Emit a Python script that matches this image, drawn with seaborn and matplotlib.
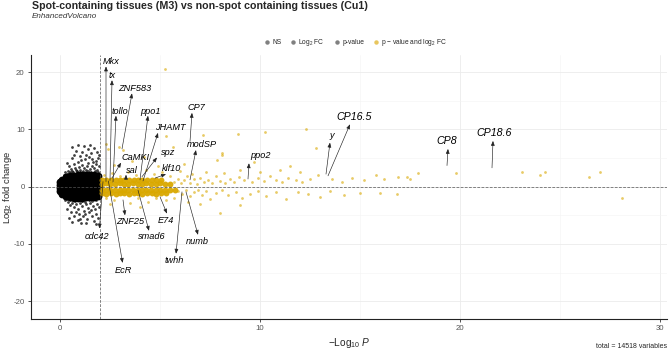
import matplotlib
matplotlib.use('Agg')
import matplotlib.pyplot as plt
from matplotlib.lines import Line2D
import seaborn as sns

# ---- data (x = -log10 P, y = log2 fold change) ----
# dense non-significant core
ns_core_x = [0.0, 0.0, 0.0, 0.0,
             0.12, 0.12, 0.12, 0.12, 0.12, 0.12,
             0.3, 0.3, 0.3, 0.3, 0.3, 0.3, 0.3, 0.3,
             0.5, 0.5, 0.5, 0.5, 0.5, 0.5, 0.5, 0.5,
             0.7, 0.7, 0.7, 0.7, 0.7, 0.7, 0.7, 0.7,
             0.9, 0.9, 0.9, 0.9, 0.9, 0.9, 0.9, 0.9,
             1.1, 1.1, 1.1, 1.1, 1.1, 1.1, 1.1, 1.1,
             1.3, 1.3, 1.3, 1.3, 1.3, 1.3, 1.3, 1.3,
             1.5, 1.5, 1.5, 1.5, 1.5, 1.5, 1.5, 1.5,
             1.7, 1.7, 1.7, 1.7, 1.7, 1.7, 1.7, 1.7,
             1.88, 1.88, 1.88, 1.88, 1.88, 1.88, 1.88, 1.88]
ns_core_y = [-0.7, -0.3, 0.3, 0.75,
             -1.2, -0.7, -0.3, 0.3, 0.7, 1.25,
             -1.6, -1.1, -0.6, -0.25, 0.25, 0.6, 1.1, 1.65,
             -1.8, -1.25, -0.7, -0.25, 0.25, 0.7, 1.25, 1.85,
             -1.9, -1.3, -0.7, -0.25, 0.25, 0.7, 1.35, 1.95,
             -1.9, -1.3, -0.7, -0.25, 0.25, 0.7, 1.35, 2.0,
             -1.9, -1.3, -0.7, -0.25, 0.25, 0.7, 1.35, 2.05,
             -1.85, -1.3, -0.7, -0.25, 0.25, 0.7, 1.35, 2.05,
             -1.85, -1.3, -0.7, -0.25, 0.25, 0.7, 1.3, 2.0,
             -1.8, -1.25, -0.7, -0.25, 0.25, 0.7, 1.3, 2.0,
             -1.7, -1.2, -0.7, -0.25, 0.25, 0.7, 1.25, 1.9]

# scattered non-significant points
ns_x = [0.25, 0.4, 0.55, 0.62, 0.75, 0.8, 0.95, 1.0, 1.12, 1.2, 1.28, 1.35, 1.42, 1.5, 1.58,
        1.65, 1.72, 1.8, 1.86, 1.93, 0.45, 0.68, 0.88, 1.05, 1.25, 1.45, 1.62, 1.78, 1.9, 0.35,
        0.58, 0.72, 0.82, 0.98, 1.1, 1.18, 1.32, 1.4, 1.55, 1.7, 1.85, 0.62, 0.92, 1.52, 1.97,
        0.18, 0.33, 0.48, 0.66, 0.84, 1.02, 1.16, 1.38, 1.56, 1.74, 1.9,
        0.25, 0.4, 0.5, 0.62, 0.7, 0.8, 0.9, 1.0, 1.1, 1.2, 1.3, 1.38, 1.48, 1.55, 1.65,
        1.75, 1.85, 1.93, 0.35, 0.55, 0.68, 0.78, 0.88, 0.95, 1.05, 1.15, 1.25, 1.35, 1.45,
        1.58, 1.68, 1.8, 1.9, 0.45, 1.0, 1.3, 0.6, 1.78,
        0.2, 0.36, 0.52, 0.74, 0.92, 1.08, 1.24, 1.44, 1.62, 1.82]
ns_y = [2.5, 2.8, 3.1, 2.7, 3.3, 2.9, 3.5, 3.0, 3.8, 3.2, 2.9, 3.6, 4.1, 3.1, 3.7,
        4.4, 3.3, 3.9, 2.9, 3.6, 3.6, 4.0, 4.3, 4.6, 4.9, 5.2, 4.9, 4.5, 5.0, 4.2,
        5.0, 5.6, 6.3, 5.4, 6.0, 7.1, 5.6, 6.5, 5.9, 6.8, 6.0, 6.9, 7.2, 7.3, 5.5,
        2.0, 2.3, 2.5, 2.6, 2.7, 2.6, 2.8, 2.7, 2.6, 2.7, 2.5,
        -2.4, -2.7, -3.2, -2.8, -3.6, -3.1, -3.9, -2.9, -3.4, -4.2, -3.0, -3.7, -2.9, -4.0, -3.3,
        -3.9, -3.0, -3.5, -3.9, -4.5, -5.2, -4.4, -5.8, -4.8, -6.3, -5.1, -4.7, -5.6, -4.5,
        -5.2, -6.0, -4.7, -5.5, -5.5, -5.6, -6.4, -6.1, -6.5,
        -1.9, -2.2, -2.4, -2.5, -2.4, -2.5, -2.6, -2.4, -2.5, -2.3]

# dense significant band
sig_core_x = [2.08, 2.3, 2.52, 2.75, 2.98, 3.2, 3.42, 3.65, 3.88, 4.1, 4.32, 4.55, 4.78, 5.0, 5.25, 5.5,
              2.1, 2.32, 2.55, 2.78, 3.0, 3.22, 3.45, 3.68, 3.9, 4.12, 4.35, 4.58, 4.8, 5.05,
              2.08, 2.3, 2.52, 2.75, 2.98, 3.2, 3.42, 3.65, 3.88, 4.1, 4.32, 4.55, 4.78, 5.0, 5.25, 5.5, 5.75,
              2.1, 2.32, 2.55, 2.78, 3.0, 3.22, 3.45, 3.68, 3.9, 4.12, 4.35, 4.58, 4.8, 5.05, 5.3]
sig_core_y = [0.55, 0.6, 0.5, 0.55, 0.6, 0.5, 0.55, 0.6, 0.5, 0.55, 0.6, 0.5, 0.55, 0.6, 0.5, 0.55,
              1.15, 1.2, 1.1, 1.2, 1.15, 1.1, 1.2, 1.15, 1.1, 1.2, 1.15, 1.1, 1.2, 1.1,
              -0.55, -0.6, -0.5, -0.55, -0.6, -0.5, -0.55, -0.6, -0.5, -0.55, -0.6, -0.5, -0.55, -0.6, -0.5, -0.55, -0.6,
              -1.15, -1.2, -1.1, -1.2, -1.15, -1.1, -1.2, -1.15, -1.1, -1.2, -1.15, -1.1, -1.2, -1.1, -1.15]

# scattered significant points
sig_x = [5.7, 5.9, 6.05, 6.2, 6.35, 6.5, 6.7, 6.85, 7.0, 7.2, 7.4, 7.6, 7.8, 8.0, 8.25, 8.5,
         8.7, 8.95, 9.2, 9.6, 9.9, 10.2, 10.5, 10.8, 11.1, 11.4, 11.8, 12.1, 12.5, 12.9, 13.6, 14.1,
         14.6, 15.2, 15.8, 16.2, 16.9, 17.35, 17.5, 17.9, 19.8, 23.1, 24.0, 24.25, 26.45, 27.0,
         2.2, 2.6, 3.0, 3.4, 3.8, 4.3, 4.7, 5.1, 5.5, 6.0, 6.6, 7.3, 8.2, 9.0, 10.0, 11.0, 12.0,
         2.3, 2.4, 2.95, 3.15, 5.25, 5.3, 5.65, 8.9, 7.85, 8.1, 7.15, 10.25, 12.3, 12.8, 8.1, 3.6,
         4.2, 2.7, 6.2, 4.9, 9.7, 11.5,
         5.9, 6.1, 6.3, 6.5, 6.7, 6.9, 7.1, 7.3, 7.5, 7.8, 8.1, 8.4, 8.8, 9.1, 9.5, 9.9, 10.3,
         10.8, 11.3, 11.9, 12.4, 13.0, 13.5, 14.2, 15.0, 16.0, 16.85, 28.1,
         2.3, 2.7, 3.5, 3.9, 4.4, 4.8, 5.3, 5.7, 6.4, 7.0, 8.0, 9.0, 4.0, 2.5]
sig_y = [0.9, 1.4, 0.6, 1.1, 1.8, 0.7, 1.3, 0.5, 1.6, 0.9, 1.2, 0.6, 1.9, 1.0, 0.7, 1.4,
         0.9, 1.7, 1.1, 0.8, 1.5, 1.0, 1.9, 1.2, 0.8, 1.6, 1.1, 0.9, 1.4, 2.0, 1.3, 0.9,
         1.6, 1.2, 2.1, 1.35, 1.75, 1.7, 1.35, 2.45, 2.45, 2.5, 2.0, 2.6, 1.75, 2.6,
         2.0, 2.4, 1.9, 2.6, 2.1, 2.9, 2.2, 2.6, 1.9, 2.8, 2.3, 2.6, 2.4, 3.0, 2.6, 2.9, 2.5,
         7.5, 6.5, 6.9, 6.4, 20.5, 8.9, 7.0, 9.2, 4.7, 5.5, 9.0, 9.5, 10.1, 6.8, 5.9, 4.5,
         5.2, 3.8, 4.0, 3.6, 4.4, 3.6,
         -0.8, -1.3, -0.6, -1.7, -1.0, -0.5, -1.4, -0.8, -2.1, -1.1, -0.6, -1.5, -0.9, -2.0, -1.2, -0.7, -1.6,
         -1.0, -2.2, -0.9, -1.3, -1.8, -0.8, -1.5, -1.1, -1.05, -1.3, -2.0,
         -1.9, -2.3, -2.9, -2.0, -2.6, -1.9, -2.4, -2.0, -2.6, -3.0, -4.6, -3.2, -3.6, -3.1]

# labelled genes
genes = ['Mkx', 'tx', 'ZNF583', 'tollo', 'ppo1', 'CP7', 'JHAMT', 'modSP', 'CaMKI', 'spz',
         'sal', 'klf10', 'ppo2', 'y', 'CP16.5', 'CP8', 'CP18.6', 'cdc42', 'EcR', 'ZNF25',
         'smad6', 'E74', 'numb', 'twhh']
gene_x = [2.3, 2.5, 3.1, 2.65, 4.0, 6.5, 4.15, 6.5, 2.6, 4.1,
          3.3, 4.75, 9.4, 13.3, 13.4, 19.35, 21.6, 2.15, 2.42, 3.15,
          3.9, 5.0, 6.3, 6.1]
gene_y = [0.9, 1.1, 6.6, 0.8, 1.2, 7.9, 1.0, 1.2, 1.5, 1.75,
          1.4, 1.5, 1.35, 2.2, 1.9, 3.7, 3.3, 0.9, 1.0, -2.3,
          -0.6, -1.75, -0.9, -0.9]

# label placement (text centre, arrow tip) - layout only
label_pos = {
    'Mkx': ((2.55, 21.8), (2.3, 21.0)), 'tx': ((2.6, 19.5), (2.6, 18.6)),
    'ZNF583': ((3.75, 17.1), (3.6, 16.3)), 'tollo': ((3.0, 13.2), (2.8, 12.4)),
    'ppo1': ((4.5, 13.2), (4.4, 12.4)), 'CP7': ((6.8, 13.9), (6.6, 12.9)),
    'JHAMT': ((5.5, 10.3), (4.9, 9.4)), 'modSP': ((7.1, 7.3), (6.8, 6.4)),
    'CaMKI': ((3.8, 5.1), (3.05, 4.2)), 'spz': ((5.4, 5.9), (4.85, 5.1)),
    'sal': ((3.6, 2.9), (3.3, 2.1)), 'klf10': ((5.6, 3.1), (5.3, 2.2)),
    'ppo2': ((10.0, 5.4), (9.45, 4.1)), 'y': ((13.6, 9.0), (13.5, 7.7)),
    'CP16.5': ((14.7, 12.2), (14.5, 10.9)), 'CP8': ((19.35, 7.9), (19.4, 6.6)),
    'CP18.6': ((21.7, 9.4), (21.65, 8.0)), 'cdc42': ((1.85, -8.7), (1.97, -7.3)),
    'EcR': ((3.15, -14.6), (3.13, -13.3)), 'ZNF25': ((3.5, -6.1), (3.25, -5.0)),
    'smad6': ((4.6, -8.7), (4.45, -7.7)), 'E74': ((5.3, -5.9), (5.35, -4.7)),
    'numb': ((6.85, -9.5), (6.9, -8.4)), 'twhh': ((5.7, -12.9), (5.8, -11.7)),
}
big_labels = ['CP16.5', 'CP8', 'CP18.6']

GOLD = '#D9A800'

sns.set_theme(style='white')
plt.rcParams['font.family'] = ['Liberation Sans', 'DejaVu Sans']
plt.rcParams['mathtext.fontset'] = 'custom'
plt.rcParams['mathtext.rm'] = 'Liberation Sans'
plt.rcParams['mathtext.it'] = 'Liberation Sans:italic'
plt.rcParams['axes.unicode_minus'] = False

fig = plt.figure(figsize=(6.69, 3.57), dpi=100)
ax = fig.add_axes([31 / 669, 38 / 357, 636 / 669, 264 / 357])

# points
sns.scatterplot(x=ns_core_x, y=ns_core_y, s=32, color='black', linewidth=0, alpha=1, ax=ax, legend=False)
sns.scatterplot(x=ns_x, y=ns_y, s=4, color='black', linewidth=0, alpha=0.75, ax=ax, legend=False)
sns.scatterplot(x=sig_core_x, y=sig_core_y, s=18, color=GOLD, linewidth=0, alpha=0.95, ax=ax, legend=False)
sns.scatterplot(x=sig_x, y=sig_y, s=4, color=GOLD, linewidth=0, alpha=0.6, ax=ax, legend=False)

# cutoff lines
ax.axvline(2, color='#555555', lw=0.5, dashes=(4, 2), zorder=3)
ax.axhline(0, color='#555555', lw=0.5, dashes=(4, 2), zorder=3)

# labels with connectors
for g, gx, gy in zip(genes, gene_x, gene_y):
    (tx_, ty_), tip = label_pos[g]
    ax.annotate('', xy=tip, xytext=(gx, gy),
                arrowprops=dict(arrowstyle='-|>,head_length=0.45,head_width=0.18', mutation_scale=6,
                                lw=0.45, color='#222222', shrinkA=0, shrinkB=0), zorder=4)
    ax.text(tx_, ty_, g, fontsize=7.7 if g in big_labels else 6.6, style='italic',
            ha='center', va='center', color='black', zorder=5)

ax.set_xlim(-1.45, 30.35)
ax.set_ylim(-23.1, 23.0)
ax.set_xticks([0, 10, 20, 30])
ax.set_xticks([5, 15, 25], minor=True)
ax.set_yticks([-20, -10, 0, 10, 20])
ax.set_yticks([-15, -5, 5, 15], minor=True)
ax.grid(which='major', color='#EBEBEB', lw=0.6)
ax.grid(which='minor', color='#F3F3F3', lw=0.4)
ax.set_axisbelow(True)
for s in ['top', 'right']:
    ax.spines[s].set_visible(False)
for s in ['left', 'bottom']:
    ax.spines[s].set_color('#222222')
    ax.spines[s].set_linewidth(0.8)
ax.tick_params(which='major', length=2.5, width=0.6, color='#333333',
               labelsize=5.6, labelcolor='#555555', pad=2, left=True, bottom=True)
ax.tick_params(which='minor', length=0)

ax.set_xlabel(r'$-\mathrm{Log}_{10}\ P$', fontsize=7.3, labelpad=3)
ax.set_ylabel(r'Log$_2$ fold change', fontsize=6.8)
ax.yaxis.set_label_coords(-16.5 / 636, 0.5)

# title / subtitle / caption
fig.text(32 / 669, 1 - 6 / 357, 'Spot-containing tissues (M3) vs non-spot containing tissues (Cu1)',
         fontsize=7.7, fontweight='bold', ha='left', va='center')
fig.text(32 / 669, 1 - 16 / 357, 'EnhancedVolcano', fontsize=5.8, style='italic',
         color='#333333', ha='left', va='center')
fig.text(667 / 669, 1 - 346 / 357, 'total = 14518 variables', fontsize=5,
         ha='right', va='center')

# legend
handles = [Line2D([], [], marker='o', ls='', color=c, markersize=3.2, markeredgewidth=0)
           for c in ['#808080', '#808080', '#808080', '#E8C65E']]
labels = ['NS', r'Log$_2$ FC', 'p-value', r'p $-$ value and log$_2$ FC']
fig.legend(handles, labels, loc='center', bbox_to_anchor=(355 / 669, 1 - 43 / 357), ncol=4,
           frameon=False, fontsize=4.8, handletextpad=0.2, columnspacing=1.2, handlelength=1.2)

fig.savefig('out.png', dpi=100)
